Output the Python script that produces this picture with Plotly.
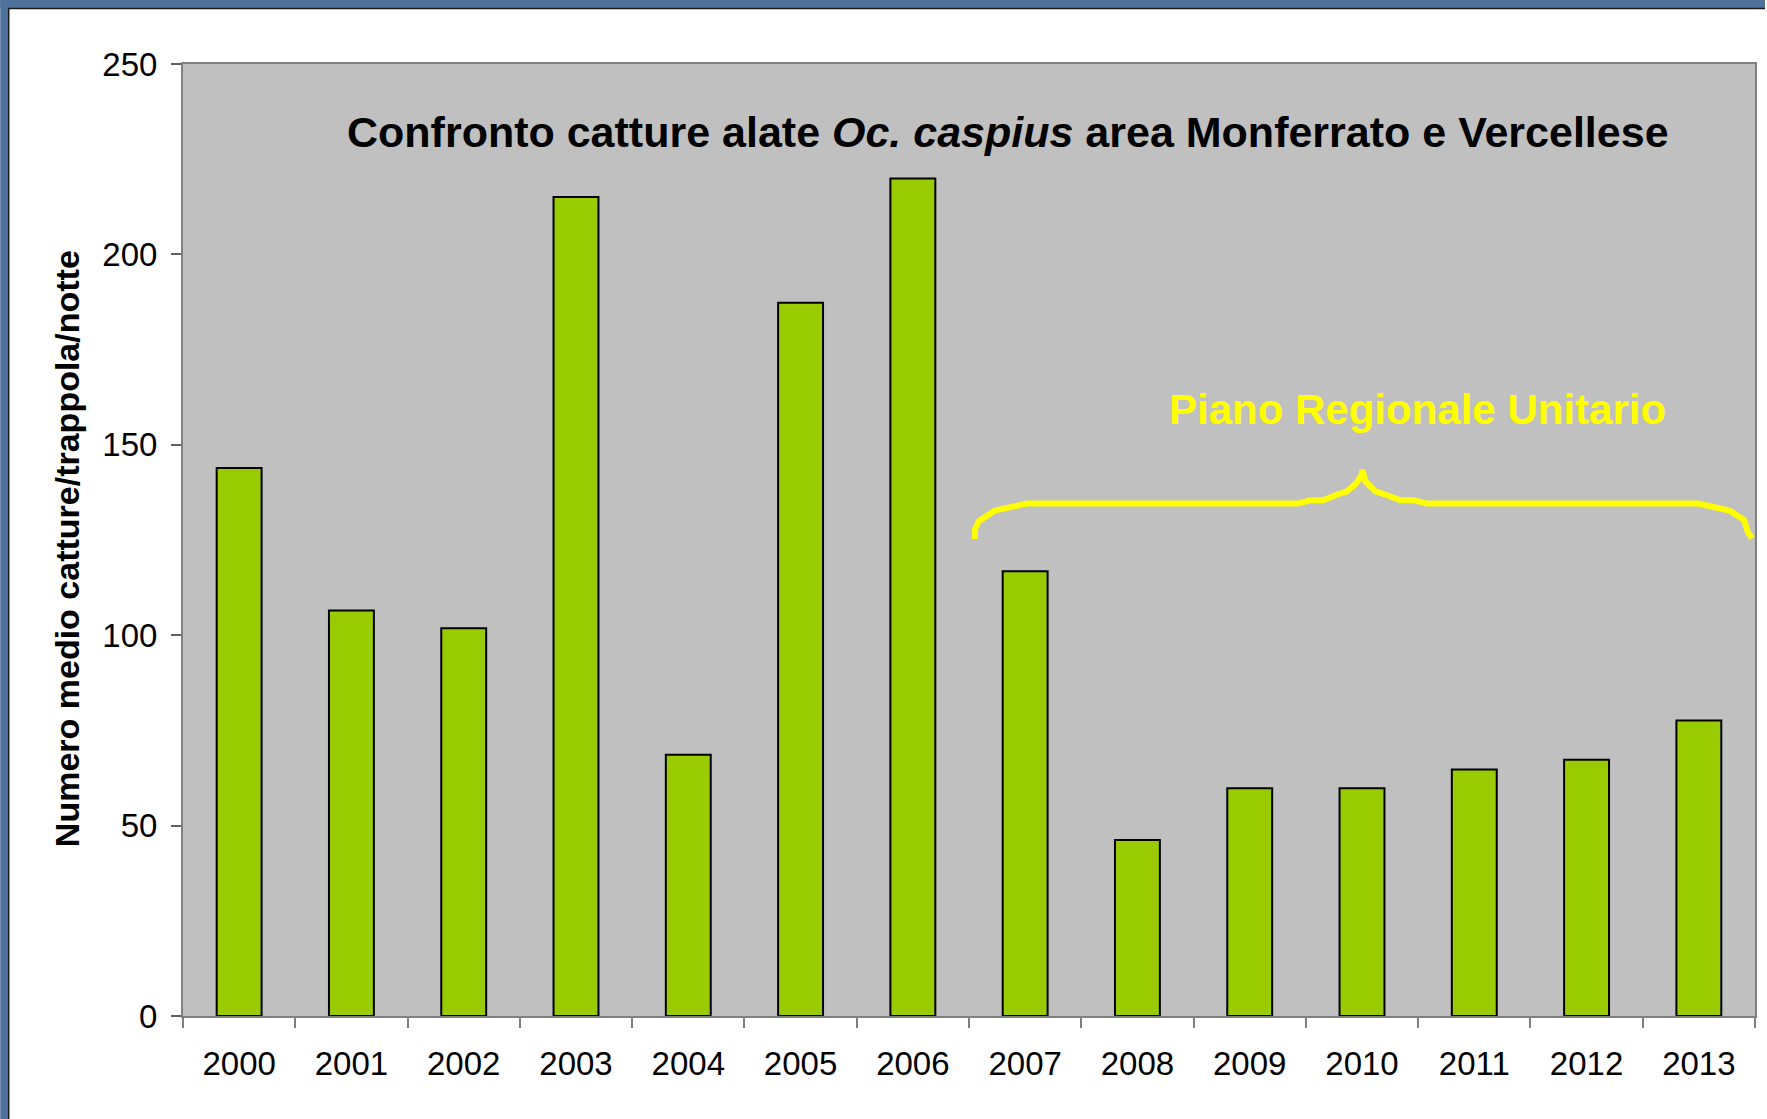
import plotly.graph_objects as go

# ---- data ----
years = ["2000", "2001", "2002", "2003", "2004", "2005", "2006",
         "2007", "2008", "2009", "2010", "2011", "2012", "2013"]
catture = [143.9, 106.5, 101.8, 215.1, 68.6, 187.3, 219.9,
           116.8, 46.2, 59.8, 59.8, 64.7, 67.3, 77.6]
y_ticks = [0, 50, 100, 150, 200, 250]

title_text = "Confronto catture alate <i>Oc. caspius</i> area Monferrato e Vercellese"
y_title = "Numero medio catture/trappola/notte"
brace_label = "Piano Regionale Unitario"

# ---- layout geometry (pixels) ----
W, H = 1767, 1119
L, R, T, B = 183, 10, 64, 103
PW, PH = W - L - R, H - T - B


def px(x):
    return (x - L) / PW


def py(y):
    return (H - B - y) / PH


FONT = "Liberation Sans, Arial, sans-serif"

fig = go.Figure()
fig.add_trace(go.Bar(
    x=years, y=catture, width=0.40,
    marker=dict(color="#99CC00", line=dict(color="#000000", width=2)),
    showlegend=False,
))

# brace decoration (pixel outline of the hand-drawn curly bracket)
brace_pts = [(976, 539), (976, 529), (980, 521), (996, 510.5), (1028, 503.6),
             (1299, 503.6), (1312, 500.3), (1325, 500.3), (1338, 494.7),
             (1348.5, 491.4), (1358, 483), (1363, 475), (1364, 470),
             (1367, 481.5), (1377, 491.4), (1390, 495.7), (1402, 500.3),
             (1416, 500.3), (1428, 503.6), (1700, 503.6), (1731.5, 510.5),
             (1746, 520), (1750, 532.5), (1754, 538.4)]
path = "M " + " L ".join(f"{px(a):.5f},{py(b):.5f}" for a, b in brace_pts)

shapes = [
    dict(type="path", path=path, xref="paper", yref="paper",
         line=dict(color="#FFFF00", width=6), layer="above"),
    # slide frame (blue textured border at top and left)
    dict(type="rect", xref="paper", yref="paper", x0=px(0), x1=px(W), y0=py(0), y1=py(8),
         fillcolor="#4F729C", line=dict(width=0), layer="below"),
    dict(type="rect", xref="paper", yref="paper", x0=px(0), x1=px(8), y0=py(0), y1=py(H),
         fillcolor="#4F729C", line=dict(width=0), layer="below"),
    dict(type="line", xref="paper", yref="paper", x0=px(8), x1=px(W), y0=py(8.5), y1=py(8.5),
         line=dict(color="#1A1A1A", width=1.5)),
    dict(type="line", xref="paper", yref="paper", x0=px(8.5), x1=px(8.5), y0=py(8), y1=py(H),
         line=dict(color="#1A1A1A", width=1.5)),
]

annotations = [
    dict(text=title_text, xref="paper", yref="paper", x=px(1009), y=py(132),
         xanchor="center", yanchor="middle", showarrow=False,
         font=dict(family=FONT, size=43, color="#000000", weight="bold")),
    dict(text=brace_label, xref="paper", yref="paper", x=px(1419), y=py(409),
         xanchor="center", yanchor="middle", showarrow=False,
         font=dict(family=FONT, size=42, color="#FFFF00", weight="bold")),
    dict(text=y_title, xref="paper", yref="paper", x=px(67), y=py(549),
         xanchor="center", yanchor="middle", showarrow=False, textangle=-90,
         font=dict(family=FONT, size=34, color="#000000", weight="bold")),
]

fig.update_layout(
    width=W, height=H,
    margin=dict(l=L, r=R, t=T, b=B, pad=0),
    paper_bgcolor="#FFFFFF",
    plot_bgcolor="#C0C0C0",
    font=dict(family=FONT, size=33, color="#000000"),
    bargap=0.6,
    shapes=shapes,
    annotations=annotations,
    xaxis=dict(
        type="category", tickson="boundaries", ticks="outside", ticklen=10,
        tickcolor="#808080", tickwidth=2, showline=True, linecolor="#808080",
        linewidth=2, mirror=True, showgrid=False, ticklabelstandoff=17,
        tickfont=dict(family=FONT, size=33, color="#000000"),
    ),
    yaxis=dict(
        range=[0, 250], tickvals=y_ticks, ticks="outside", ticklen=10,
        tickcolor="#606060", tickwidth=2, showline=True, linecolor="#808080",
        linewidth=2, mirror=True, showgrid=False, zeroline=False,
        ticklabelstandoff=7,
        tickfont=dict(family=FONT, size=33, color="#000000"),
    ),
)

fig.write_html(
    "out.html",
    config={"displayModeBar": False},
    post_script="document.body.style.margin='0';document.body.style.overflow='hidden';",
)
